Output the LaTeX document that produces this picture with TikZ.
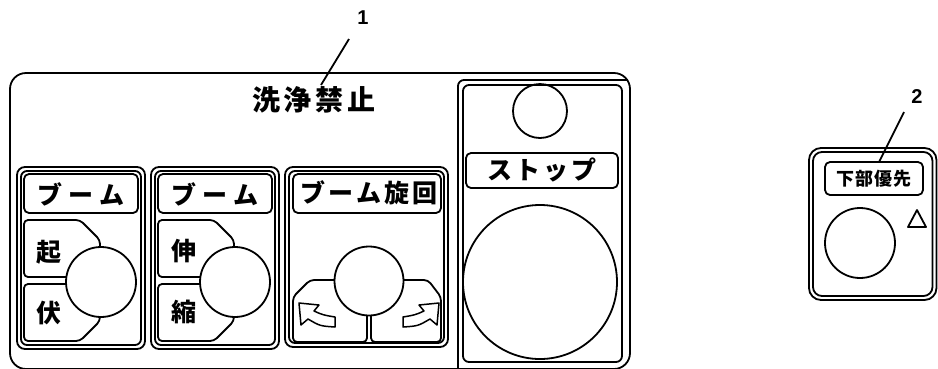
\documentclass[tikz,border=0pt]{standalone}
\usepackage{fontspec}
\setmainfont{Liberation Sans}
\newfontfamily\cjk{Noto Sans CJK JP}
\begin{document}
\begin{tikzpicture}[x=1pt,y=-1pt,line width=1.8pt,line join=round,
  jp/.style={font=\cjk\bfseries\fontsize{#1}{#1}\selectfont,inner sep=0pt},
  num/.style={font=\bfseries\fontsize{20}{20}\selectfont,inner sep=0pt},
  boxr/.style={rounded corners=5pt},
  tabr/.style={rounded corners=4pt},
  arrowshape/.style={line width=1.5pt}]
\useasboundingbox (0,0) rectangle (938,368);
% main panel
\draw[rounded corners=16pt] (10,73) rectangle (630,369);
% ---- panel 1
\draw[rounded corners=8pt] (17,167) rectangle (145,349);
\draw[rounded corners=6pt] (21,171) rectangle (141,345);
\draw[boxr] (24,174) rectangle (138,213);
\draw[tabr] (66.4,277) -- (24,277) -- (24,220) -- (80,220) -- (100,240) -- (100,247);
\draw[tabr] (66,284) -- (24,284) -- (24,341) -- (80,341) -- (100,321) -- (100,317);
\draw (101,282) circle (35);
\node[jp=25] (b1) at (81,194) {ブ\hspace{6pt}ー\hspace{6pt}ム};
\node[jp=25] (oki) at (49,252) {起};
\node[jp=25] (fuku) at (49,313) {伏};
% ---- panel 2
\draw[rounded corners=8pt] (151,167) rectangle (279,349);
\draw[rounded corners=6pt] (155,171) rectangle (275,345);
\draw[boxr] (158,174) rectangle (272,213);
\draw[tabr] (200.4,277) -- (158,277) -- (158,220) -- (214,220) -- (234,240) -- (234,247);
\draw[tabr] (200,284) -- (158,284) -- (158,341) -- (214,341) -- (234,321) -- (234,317);
\draw (235,282) circle (35);
\node[jp=25] (b2) at (215,194) {ブ\hspace{6pt}ー\hspace{6pt}ム};
\node[jp=25] (shin) at (184,251) {伸};
\node[jp=25] (shuku) at (184,312) {縮};
% ---- panel 3
\draw[rounded corners=8pt] (285,167) rectangle (448,347);
\draw[rounded corners=6pt] (289,171) rectangle (444,343);
\draw[boxr] (293,174) rectangle (441,213);
\draw[tabr] (334.5,280) -- (310,280) -- (293,297) -- (293,342) -- (367,342) -- (367,315.4);
\draw[tabr] (403.5,280) -- (428,280) -- (441,297) -- (441,342) -- (371,342) -- (371,315.4);
\draw (369,281) circle (34.5);
\draw[arrowshape] (299,303) -- (319,305) -- (314,311) .. controls (323,315) .. (335,317) -- (335,327) .. controls (320,326) .. (308,319) -- (301,325) -- cycle;
\draw[arrowshape] (439,303) -- (419,305) -- (424,311) .. controls (415,315) .. (403,317) -- (403,327) .. controls (418,326) .. (430,319) -- (437,325) -- cycle;
\node[jp=25] (b3) at (369,193) {ブ\hspace{3pt}ー\hspace{3pt}ム\hspace{3pt}旋\hspace{3pt}回};
% ---- stop panel
\draw[rounded corners=6pt] (458,369) -- (458,80) -- (627.7,80);
\draw[rounded corners=6pt] (463,85) rectangle (622,362);
\draw (540,111) circle (27);
\draw[boxr] (466,153) rectangle (618,188);
\draw (540,282) circle (77);
\node[jp=25] (stop) at (542,170) {ス\hspace{3pt}ト\hspace{3pt}ッ\hspace{3pt}プ};
% title
\node[jp=28] (title) at (314,100) {洗\hspace{4pt}浄\hspace{4pt}禁\hspace{4pt}止};
% ---- right panel
\draw[rounded corners=12pt] (809,148) rectangle (936.5,300);
\draw[rounded corners=9pt] (813,152) rectangle (932.5,296);
\draw[boxr] (825,162) rectangle (923,195);
\draw (860,243) circle (35);
\draw (917,210) -- (926,227) -- (908,227) -- cycle;
\node[jp=18] (kabu) at (874,179) {下\hspace{1pt}部\hspace{1pt}優\hspace{1pt}先};
% ---- leaders
\node[num] (n1) at (363,18) {1};
\node[num] (n2) at (917,97) {2};
\coordinate (l1a) at (349,39);
\coordinate (l1b) at (321,85);
\coordinate (l2a) at (904,112);
\coordinate (l2b) at (879,162);
\draw (l1a) -- (l1b);
\draw (l2a) -- (l2b);
\end{tikzpicture}
\end{document}
